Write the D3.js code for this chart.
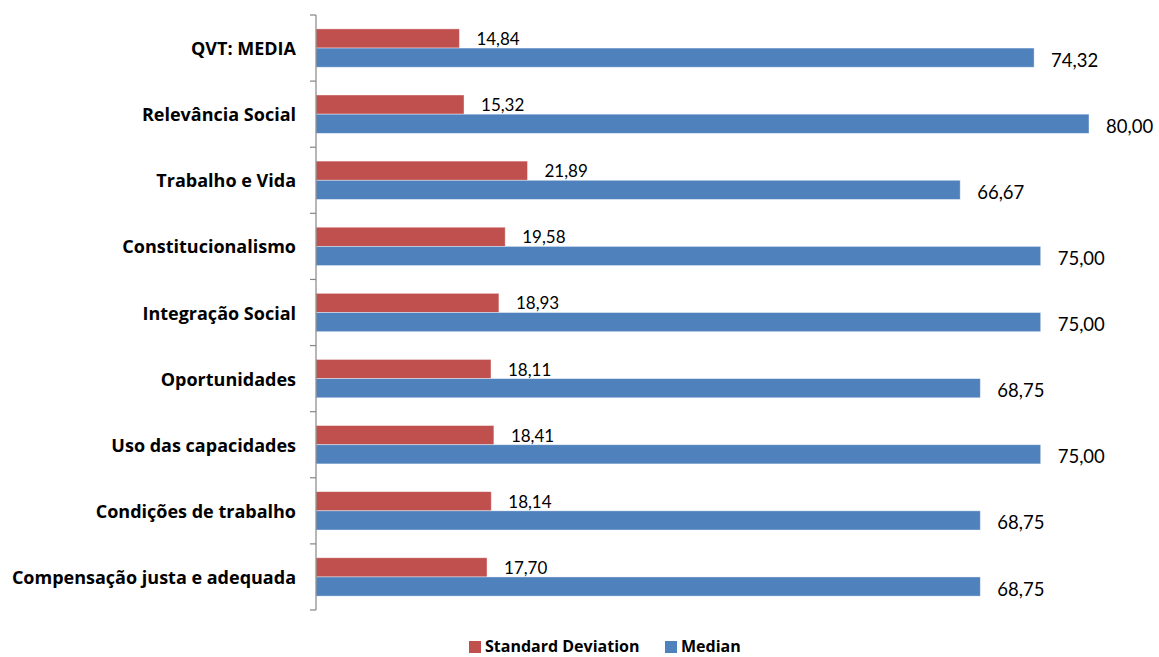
<!DOCTYPE html>
<html>
<head>
<meta charset="utf-8">
<script src="https://cdn.jsdelivr.net/npm/d3@7"></script>
<style>
  html, body { margin: 0; padding: 0; background: #fff; }
  svg { display: block; font-family: Lato, "Open Sans", sans-serif; }
</style>
</head>
<body>
<svg id="chart" width="1159" height="657"></svg>
<script>
// Quality-of-work-life dimensions, listed top to bottom
const categories = [
  "QVT: MEDIA",
  "Relevância Social",
  "Trabalho e Vida",
  "Constitucionalismo",
  "Integração Social",
  "Oportunidades",
  "Uso das capacidades",
  "Condições de trabalho",
  "Compensação justa e adequada"
];
const stdDeviation = [14.84, 15.32, 21.89, 19.58, 18.93, 18.11, 18.41, 18.14, 17.70];
const median       = [74.32, 80.00, 66.67, 75.00, 75.00, 68.75, 75.00, 68.75, 68.75];
const seriesNames  = ["Standard Deviation", "Median"];
const seriesColors = ["#C0504D", "#4F81BD"];

const svg = d3.select("#chart");
const margin = { left: 316, top: 15, right: 70, bottom: 47 };
const W = 1159, H = 657;
const boldFont = "'Open Sans', Lato, sans-serif";

const x = d3.scaleLinear().domain([0, 80]).range([margin.left, 1089]);
const y = d3.scaleBand().domain(categories).range([margin.top, H - margin.bottom]).paddingInner(0.42).paddingOuter(0.21);
const ySeries = d3.scaleBand().domain(seriesNames).range([0, y.bandwidth()]);

const fmt = v => d3.format(".2f")(v).replace(".", ",");

// Bars and their value labels
const series = [stdDeviation, median];
series.forEach((vals, si) => {
  const g = svg.append("g");
  g.selectAll("rect").data(categories).join("rect")
    .attr("x", x(0))
    .attr("y", c => y(c) + ySeries(seriesNames[si]))
    .attr("width", (c, i) => x(vals[i]) - x(0))
    .attr("height", ySeries.bandwidth())
    .attr("fill", seriesColors[si])
    .attr("stroke", "#ffffff")
    .attr("stroke-opacity", 0.5)
    .attr("stroke-width", 0.8);

  g.selectAll("text").data(categories).join("text")
    .attr("x", (c, i) => x(vals[i]) + 17)
    .attr("y", c => y(c) + ySeries(seriesNames[si]) + ySeries.bandwidth() / 2 + (si === 0 ? 0 : 2))
    .attr("dominant-baseline", "central")
    .attr("font-size", si === 0 ? 17 : 18.5)
    .attr("fill", "#000")
    .text((c, i) => fmt(vals[i]));
});

// Category axis: ticks sit on band boundaries
const axisG = svg.append("g");
axisG.append("line")
  .attr("x1", x(0)).attr("x2", x(0))
  .attr("y1", margin.top).attr("y2", H - margin.bottom)
  .attr("stroke", "#868686").attr("stroke-width", 1.2);
const step = (H - margin.bottom - margin.top) / categories.length;
const tickYs = d3.range(categories.length + 1).map(i => margin.top + i * step);
axisG.selectAll("line.tick").data(tickYs).join("line")
  .attr("class", "tick")
  .attr("x1", x(0) - 6).attr("x2", x(0))
  .attr("y1", d => d).attr("y2", d => d)
  .attr("stroke", "#868686").attr("stroke-width", 1.2);

axisG.selectAll("text").data(categories).join("text")
  .attr("x", 296)
  .attr("y", c => y(c) + y.bandwidth() / 2)
  .attr("text-anchor", "end")
  .attr("dominant-baseline", "central")
  .attr("font-family", boldFont)
  .attr("font-size", 18)
  .attr("font-weight", "bold")
  .attr("fill", "#000")
  .text(c => c);

// Legend
const legend = svg.append("g").attr("transform", "translate(469,645)");
const legendX = [0, 196];
seriesNames.forEach((n, i) => {
  legend.append("rect").attr("x", legendX[i]).attr("y", -4).attr("width", 12).attr("height", 12).attr("fill", seriesColors[i]);
  legend.append("text").attr("x", legendX[i] + 16).attr("y", 6.5)
    .attr("font-family", boldFont)
    .attr("font-size", 16).attr("font-weight", "bold").attr("fill", "#000")
    .text(n);
});
</script>
</body>
</html>
